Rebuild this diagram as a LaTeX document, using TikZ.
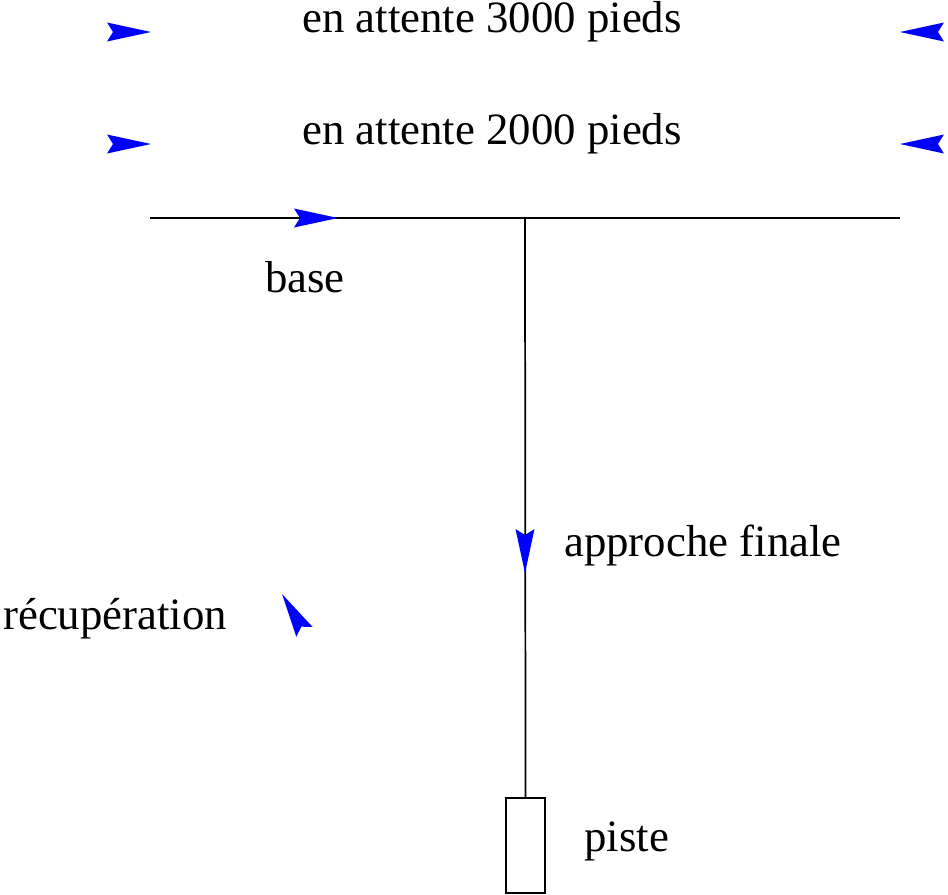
\documentclass[tikz,border=0pt]{standalone}
\usepackage{fontspec}
\setmainfont{Liberation Serif}
\begin{document}
\begin{tikzpicture}[x=0.75pt,y=-0.75pt,
  lbl/.style={anchor=base west,inner sep=0pt,font=\fontsize{33.6}{40}\selectfont},
  barb/.pic={\fill[blue] (0,0) -- (-44,-9.5) -- (-38,0) -- (-44,9.5) -- cycle;},
  ln/.style={line width=1.3pt},
  rwy/.style={draw,line width=1.5pt,minimum width=29pt,minimum height=71pt,inner sep=0pt}]
\useasboundingbox (0,0) rectangle (948,894);
% labels
\node[lbl] (t3) at (302,32) {en attente 3000 pieds};
\node[lbl] (t2) at (302,144) {en attente 2000 pieds};
\node[lbl] (tb) at (265,292) {base};
\node[lbl] (ta) at (564,556) {approche finale};
\node[lbl] (tr) at (3,629) {récupération};
\node[lbl] (tp) at (584,851) {piste};
% geometry
\coordinate (L) at (150,218);
\coordinate (R) at (900,218);
\coordinate (J) at (525,218);
\node[rwy] (rw) at (525.5,845.5) {};
\draw[ln] (L) -- (R);
\draw[ln] (J) -- (rw.north);
% arrowheads
\pic at (151,32) {barb};
\pic at (151,144) {barb};
\pic[rotate=180] at (900,32) {barb};
\pic[rotate=180] at (900,144) {barb};
\pic at (338,218) {barb};
\pic[rotate=-90] at (525,573) {barb};
\pic[rotate=120.7] at (282,594) {barb};
\end{tikzpicture}
\end{document}
